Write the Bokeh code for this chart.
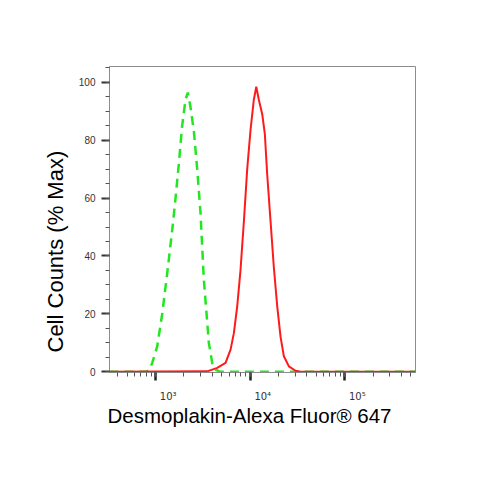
from bokeh.plotting import figure
from bokeh.models import Range1d, SingleIntervalTicker, LogTicker, CustomJSTickFormatter, Title
from bokeh.embed import file_html
from bokeh.resources import INLINE

# Isotype / control (green dashed)
ctrl_x = [326, 800, 860, 923, 1042, 1178, 1330, 1503, 1629, 1766, 1914, 2075, 2198,
          2344, 2547, 2761, 2992, 3119, 3243, 3467, 3664, 3981, 4315, 4786, 563000]
ctrl_y = [0, 0, 0.6, 3.0, 8.7, 20, 34, 49, 60, 72, 85, 94, 96.5,
          91.5, 83, 70, 55, 43, 32, 20, 10, 3, 0.7, 0, 0]

# Desmoplakin (red solid)
dsp_x = [326, 3524, 4498, 5508, 6223, 6745, 7311, 7925, 8610, 9333, 10116, 10965, 11641,
         12388, 13459, 14355, 15171, 16482, 17865, 19409, 21038, 22803, 25763, 30269, 34198, 563000]
dsp_y = [0, 0.1, 1.3, 3.0, 7.6, 13.3, 22.5, 35, 52, 70, 83.5, 94, 98.5,
         94, 89, 82, 68.5, 52, 36, 22.5, 12, 5.3, 1.8, 0.3, 0, 0]

x_title = "Desmoplakin-Alexa Fluor\u00ae 647"
y_title = "Cell Counts (% Max)"

p = figure(width=484, height=484, x_axis_type="log",
           x_range=Range1d(326, 563000), y_range=Range1d(-0.3, 105.5),
           output_backend="svg", toolbar_location=None,
           min_border_left=109, min_border_top=66, min_border_right=69, min_border_bottom=112)

p.line(ctrl_x, ctrl_y, line_color="#22e622", line_width=2.5, line_dash="9 6")
p.line(dsp_x, dsp_y, line_color="#ff1a1a", line_width=2)

p.xgrid.visible = False
p.ygrid.visible = False
p.outline_line_color = "#8c8c8c"
p.outline_line_width = 1

ya = p.yaxis[0]
ya.ticker = SingleIntervalTicker(interval=20, num_minor_ticks=4)
ya.axis_line_color = "#8c8c8c"
ya.major_tick_line_color = "#333333"
ya.minor_tick_line_color = "#555555"
ya.major_tick_out = 8
ya.major_tick_in = 0
ya.minor_tick_out = 4
ya.minor_tick_in = 0
ya.major_tick_line_width = 2
ya.major_label_text_font = "Liberation Sans"
ya.major_label_text_font_size = "10px"
ya.major_label_text_color = "#333333"
ya.major_label_standoff = 6

xa = p.xaxis[0]
xa.ticker = LogTicker(num_minor_ticks=10)
xa.formatter = CustomJSTickFormatter(code="""
const e = Math.round(Math.log10(tick));
const sup = {2:'\u00b2', 3:'\u00b3', 4:'\u2074', 5:'\u2075', 6:'\u2076'};
return '\u2007\u2007\u2007\u200710' + (sup[e] || String(e));
""")
xa.axis_line_color = "#8c8c8c"
xa.major_tick_line_color = "#222222"
xa.minor_tick_line_color = "#555555"
xa.major_tick_out = 8
xa.major_tick_in = 0
xa.minor_tick_out = 4
xa.minor_tick_in = 0
xa.major_tick_line_width = 2.5
xa.major_label_text_font = "DejaVu Sans"
xa.major_label_text_font_size = "10px"
xa.major_label_text_color = "#333333"
xa.major_label_standoff = 10

p.add_layout(Title(text=y_title, align="left", offset=20, standoff=16,
                   text_font="Liberation Sans", text_font_size="22px",
                   text_font_style="normal", text_color="#000000"), "left")
p.add_layout(Title(text=x_title, align="left", offset=-2, standoff=-5,
                   text_font="Liberation Sans", text_font_size="20.5px",
                   text_font_style="normal", text_color="#000000"), "below")

open("out.html", "w").write(file_html(p, INLINE))
